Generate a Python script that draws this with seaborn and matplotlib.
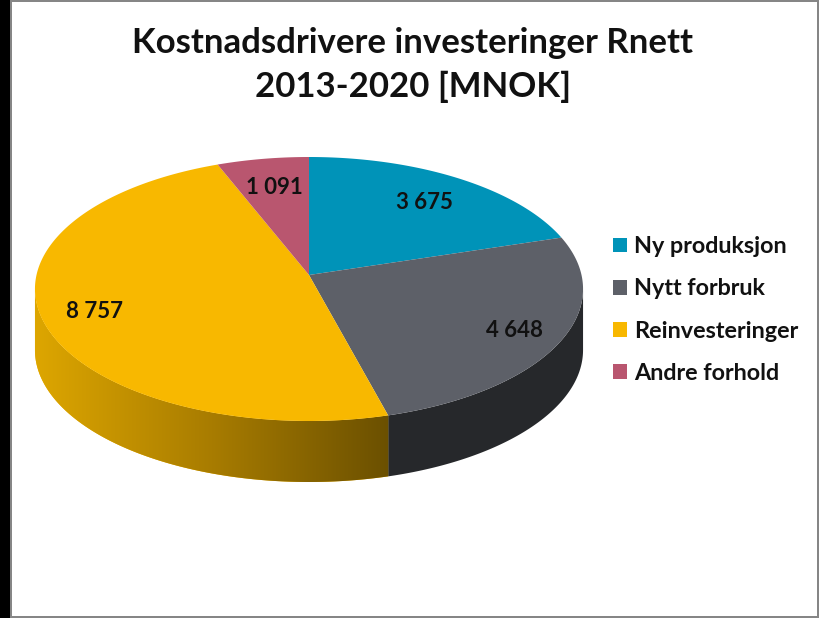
import numpy as np
import matplotlib

matplotlib.use("Agg")

import matplotlib.pyplot as plt
import seaborn as sns
from matplotlib.colors import LinearSegmentedColormap
from matplotlib.patches import Patch, Polygon

categories = ["Ny produksjon", "Nytt forbruk", "Reinvesteringer", "Andre forhold"]
values = [3675, 4648, 8757, 1091]
value_labels = ["3 675", "4 648", "8 757", "1 091"]
colors = ["#0093B8", "#5D6068", "#F8B800", "#B9566F"]
wall_colors = ["#0093B8", "#26282B", "#F8B800", "#B9566F"]
title = "Kostnadsdrivere investeringer Rnett\n2013-2020 [MNOK]"

sns.set_theme(style="white")
plt.rcParams["font.family"] = ["Lato", "DejaVu Sans"]

# pie geometry in pixels, the perspective makes the apex sit above the ellipse centre
CX, CY = 309, 289
RX, RY = 272.5, 132
APEX = 14
PERSP = APEX / RY
DEPTH = 61
LABEL_R = [0.75, 0.82, 0.81, 0.75]


def project(theta, r=1.0):
    # theta clockwise from 12 o'clock, perspective projection of a flat disc
    sx = r * np.sin(theta)
    sy = r * np.cos(theta)
    d = 1 + PERSP * sy
    return CX + RX * sx / d, CY - (RY * sy + APEX) / d


fig, ax = plt.subplots(figsize=(8.19, 6.18), dpi=100)
fig.subplots_adjust(0, 0, 1, 1)

edges = np.concatenate([[0], np.cumsum(values)]) / np.sum(values) * 2 * np.pi

# side walls
for i in range(len(values)):
    t = np.linspace(edges[i], edges[i + 1], 300)
    x, y = project(t)
    keep = y >= CY
    if keep.sum() < 2:
        continue
    x, y = x[keep], y[keep]
    wall = Polygon(np.column_stack([np.r_[x, x[::-1]], np.r_[y, y[::-1] + DEPTH]]),
                   closed=True, facecolor=wall_colors[i], edgecolor="none", zorder=1)
    ax.add_patch(wall)
    if categories[i] == "Reinvesteringer":
        cmap = LinearSegmentedColormap.from_list("wall", ["#6B5000", "#A87C00", "#DDA600"])
        im = ax.imshow(np.linspace(0, 1, 256)[::-1].reshape(1, -1), cmap=cmap, aspect="auto",
                       extent=(x.min(), x.max(), y.max() + DEPTH, y.min()), zorder=1.5)
        im.set_clip_path(wall)

# top face
for i, val in enumerate(values):
    t = np.linspace(edges[i], edges[i + 1], 300)
    x, y = project(t)
    apex_x, apex_y = project(0.0, 0.0)
    ax.add_patch(Polygon(np.column_stack([np.r_[apex_x, x], np.r_[apex_y, y]]),
                         closed=True, facecolor=colors[i], edgecolor="none", zorder=2))
    mid = (edges[i] + edges[i + 1]) / 2
    lx, ly = project(mid, LABEL_R[i])
    ax.text(lx + 1, ly + 2, value_labels[i], ha="center", va="center", fontsize=16,
            fontweight="bold", color="#111111", zorder=3)

ax.text(413, 65, title, ha="center", va="center", fontsize=25, fontweight="bold",
        color="#111111", linespacing=1.45)

handles = [Patch(facecolor=c, edgecolor="none") for c in colors]
ax.legend(handles, categories, loc="center left", bbox_to_anchor=(613 / 819, 1 - 310 / 618),
          frameon=False, labelspacing=0.91, handlelength=0.6, handleheight=0.6,
          handletextpad=0.3, borderpad=0, borderaxespad=0,
          prop={"family": "Lato", "weight": "bold", "size": 16.8}, labelcolor="#111111")

# frame of the picture
ax.axvspan(0, 10, color="black", lw=0)
ax.axvspan(10, 12, color="#868686", lw=0)
ax.axvspan(817, 819, color="#868686", lw=0)
ax.axhspan(0, 2, xmin=10 / 819, color="#868686", lw=0)
ax.axhspan(616, 618, xmin=10 / 819, color="#868686", lw=0)

ax.set_xlim(0, 819)
ax.set_ylim(618, 0)
ax.set_axis_off()
fig.savefig("out.png", dpi=100, facecolor="white")
